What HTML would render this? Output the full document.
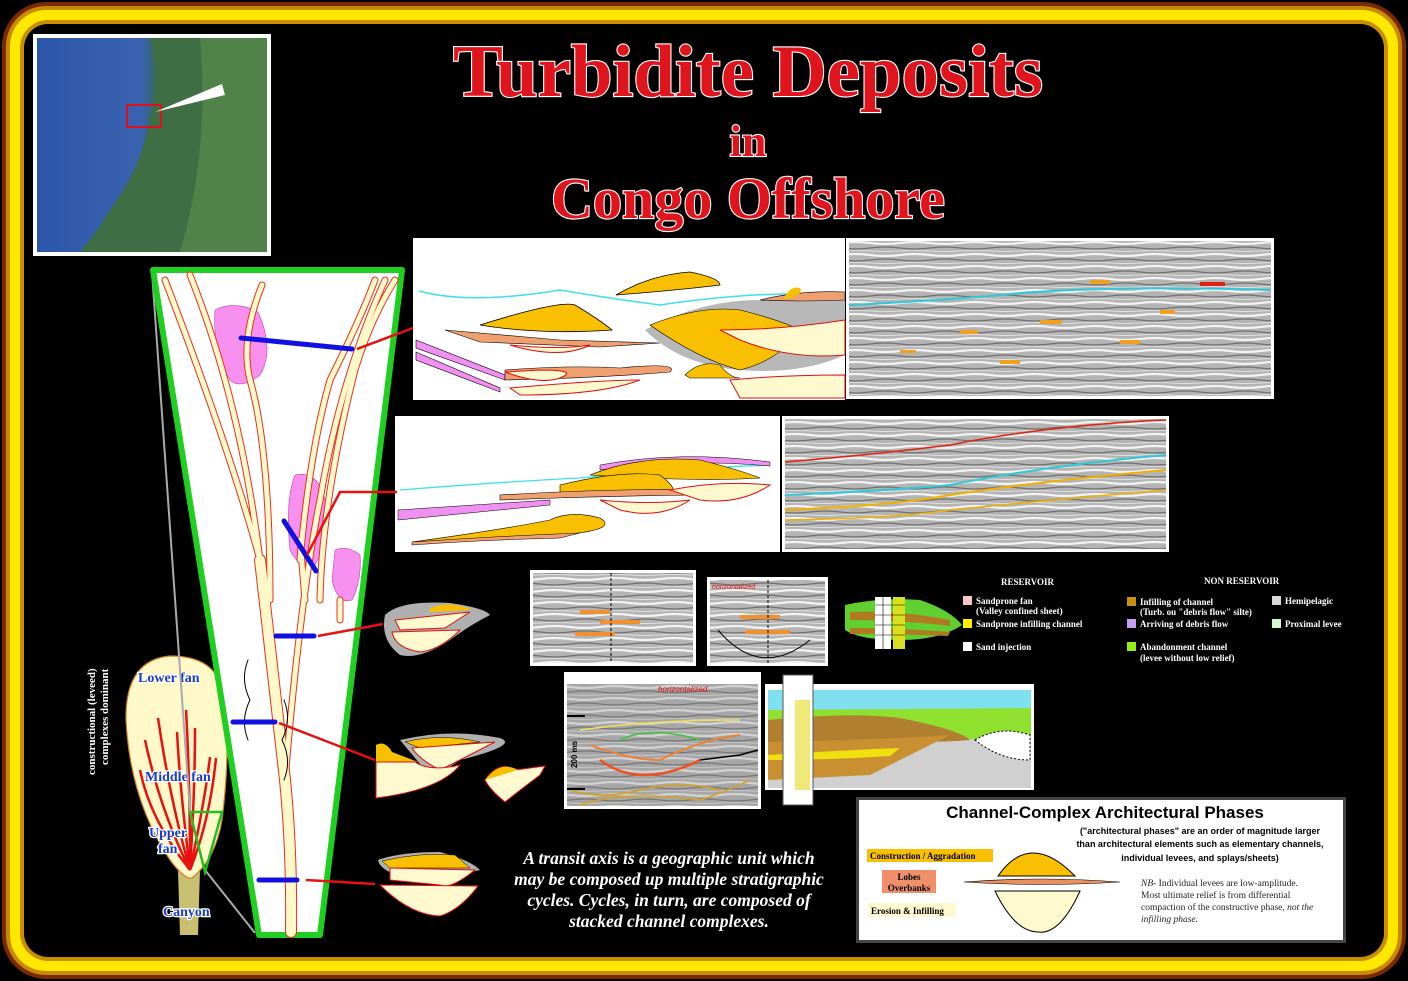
<!DOCTYPE html>
<html><head><meta charset="utf-8"><style>
html,body{margin:0;padding:0;background:#000;}
svg{display:block}
.t{font-family:"Liberation Serif",serif;font-weight:bold;fill:#e0141c;stroke:#fff;stroke-width:2.2px;paint-order:stroke;}
.lg{font-family:"Liberation Serif",serif;font-size:9px;fill:#fff;font-weight:bold}
.bl{font-family:"Liberation Serif",serif;font-weight:bold;fill:#1a3cc8;stroke:#fff;stroke-width:2.5px;paint-order:stroke;font-size:14px}
</style></head><body>
<svg width="1408" height="981" viewBox="0 0 1408 981" xmlns="http://www.w3.org/2000/svg">
<defs>
<pattern id="seis" width="60" height="12" patternUnits="userSpaceOnUse">
<rect width="60" height="12" fill="#b4b4b4"/>
<path d="M0 3 Q15 1 30 3 T60 3" stroke="#f2f2f2" stroke-width="2.2" fill="none"/>
<path d="M0 8 Q15 10 30 8 T60 8" stroke="#707070" stroke-width="1.3" fill="none"/>
<path d="M0 11 Q15 10 30 11 T60 11" stroke="#e0e0e0" stroke-width="1" fill="none"/>
</pattern>
<linearGradient id="map" x1="0" y1="0" x2="1" y2="0">
<stop offset="0" stop-color="#2c56a8"/><stop offset="0.45" stop-color="#3a62b0"/><stop offset="0.55" stop-color="#356a48"/><stop offset="1" stop-color="#4a7a40"/>
</linearGradient>
</defs>
<rect x="0" y="0" width="1408" height="981" fill="#000"/>
<rect x="2" y="2" width="1404" height="977" rx="44" fill="#7a2a00"/>
<rect x="6" y="6" width="1396" height="969" rx="40" fill="#c88a00"/>
<rect x="10" y="10" width="1388" height="961" rx="36" fill="#ffe800"/>
<rect x="20" y="20" width="1368" height="941" rx="28" fill="#c89000"/>
<rect x="24" y="24" width="1360" height="933" rx="24" fill="#000"/>

<rect x="33" y="34" width="238" height="222" fill="#fff"/>
<rect x="37" y="38" width="230" height="214" fill="url(#map)"/>
<path d="M150 38 Q160 80 150 120 Q140 170 110 210 Q95 235 80 252 L267 252 L267 38 Z" fill="#3f6e44"/>
<path d="M200 38 L267 38 L267 252 L180 252 Q210 150 200 38Z" fill="#5a8a4c" opacity="0.7"/>
<rect x="127" y="105" width="34" height="22" fill="none" stroke="#e01020" stroke-width="2"/>
<path d="M155 112 L222 84 L225 95 Z" fill="#fff"/>

<text class="t" x="748" y="96" font-size="74" text-anchor="middle" textLength="590" lengthAdjust="spacingAndGlyphs">Turbidite Deposits</text>
<text class="t" x="748" y="156" font-size="44" text-anchor="middle">in</text>
<text class="t" x="748" y="218" font-size="58" text-anchor="middle">Congo Offshore</text>

<rect x="413" y="238" width="432" height="162" fill="#fff"/>
<path d="M419 291 Q470 305 560 290 Q620 300 660 305 Q760 290 845 295" stroke="#40e0e8" stroke-width="1.5" fill="none"/>
<path d="M645 330 Q700 300 760 300 Q800 290 845 295 L845 355 Q800 375 740 370 Q680 365 645 330Z" fill="#b8b8b8"/>
<path d="M480 325 Q560 300 575 305 Q600 320 612 330 Q540 335 480 325Z" fill="#f8c000" stroke="#000" stroke-width="0.8"/>
<path d="M616 295 Q650 275 690 272 Q720 278 720 285 Q680 290 616 295Z" fill="#f8c000" stroke="#000" stroke-width="0.8"/>
<path d="M445 330 L560 340 L660 343 L600 347 L480 342Z" fill="#f0a070" stroke="#000" stroke-width="0.6"/>
<path d="M510 345 Q560 350 590 345 Q560 360 510 345Z" fill="#fff9d0" stroke="#e01010"/>
<path d="M650 325 Q700 305 740 310 Q780 320 800 330 Q780 360 740 370 Q700 360 650 325Z" fill="#f8c000" stroke="#000" stroke-width="0.6"/>
<path d="M720 330 Q780 330 845 320 L845 355 Q790 360 740 340Z" fill="#fff9d0" stroke="#e01010"/>
<path d="M760 300 Q800 290 845 292 L845 300 Q800 302 760 300Z" fill="#f0a070" stroke="#000" stroke-width="0.6"/>
<path d="M783 300 Q790 285 800 288 Q805 295 783 300Z" fill="#f8c000"/>
<path d="M416 340 L505 375 L505 380 L416 348Z" fill="#f090f0" stroke="#000" stroke-width="0.6"/>
<path d="M416 352 L500 388 L500 392 L416 360Z" fill="#f090f0" stroke="#000" stroke-width="0.6"/>
<path d="M505 370 Q570 365 620 368 Q680 362 670 372 Q600 378 505 380Z" fill="#f0a070" stroke="#000" stroke-width="0.6"/>
<path d="M505 372 Q540 385 560 378 Q580 370 540 370Z" fill="#fff9d0" stroke="#e01010"/>
<path d="M510 388 Q600 380 640 380 Q600 395 520 395Z" fill="#fff9d0" stroke="#e01010"/>
<path d="M685 375 Q700 360 720 365 Q730 378 740 378 L690 378Z" fill="#f8c000" stroke="#000" stroke-width="0.6"/>
<path d="M730 380 Q780 375 845 375 L845 398 L740 398 Z" fill="#fff9d0" stroke="#e01010"/>

<rect x="846" y="238" width="428" height="161" fill="#fff"/>
<rect x="849" y="241" width="422" height="155" fill="url(#seis)"/>
<path d="M849 305 Q950 300 1000 295 Q1100 285 1271 290" stroke="#30c8d8" stroke-width="2" fill="none"/>
<g fill="#f0a020"><rect x="1090" y="280" width="20" height="4"/><rect x="1200" y="282" width="25" height="4" fill="#e02010"/><rect x="960" y="330" width="18" height="4"/><rect x="1040" y="320" width="22" height="4"/><rect x="1120" y="340" width="20" height="4"/><rect x="1160" y="310" width="15" height="4"/><rect x="900" y="350" width="16" height="3"/><rect x="1000" y="360" width="20" height="4"/></g>

<rect x="395" y="416" width="385" height="136" fill="#fff"/>
<path d="M400 490 Q500 482 580 478 Q650 470 770 465" stroke="#40e0e8" stroke-width="1.3" fill="none"/>
<path d="M600 465 Q680 450 770 462 L770 466 Q680 458 600 470Z" fill="#f090f0" stroke="#000" stroke-width="0.5"/>
<path d="M590 475 Q640 455 700 460 Q740 470 760 478 Q700 482 590 475Z" fill="#f8c000" stroke="#000" stroke-width="0.6"/>
<path d="M560 485 Q620 470 660 475 Q680 490 670 495 L560 495Z" fill="#f8c000" stroke="#000" stroke-width="0.6"/>
<path d="M500 495 Q620 488 700 490 L700 495 Q600 496 500 500Z" fill="#f0a070" stroke="#000" stroke-width="0.6"/>
<path d="M670 490 Q720 480 770 485 Q740 505 700 500Z" fill="#fff9d0" stroke="#e01010"/>
<path d="M600 500 Q650 505 690 500 Q660 520 620 510Z" fill="#fff9d0" stroke="#e01010"/>
<path d="M398 510 L550 500 L550 505 L398 520Z" fill="#f090f0" stroke="#000" stroke-width="0.5"/>
<path d="M412 542 Q500 530 550 520 Q570 510 600 518 Q620 530 560 535 Z" fill="#f8c000" stroke="#000" stroke-width="0.6"/>
<path d="M412 542 Q500 536 580 533 L560 538 Q480 540 412 545Z" fill="#f0a070" stroke="#000" stroke-width="0.5"/>

<rect x="782" y="416" width="387" height="136" fill="#fff"/>
<rect x="785" y="419" width="381" height="130" fill="url(#seis)"/>
<path d="M785 462 Q870 455 950 445 Q1050 425 1166 420" stroke="#e02010" stroke-width="1.5" fill="none"/>
<path d="M785 495 Q900 490 950 485 Q1050 465 1166 455" stroke="#30c8d8" stroke-width="2" fill="none"/>
<path d="M785 510 Q900 505 950 495 Q1050 480 1166 470" stroke="#f0b000" stroke-width="2" fill="none"/>
<path d="M785 520 Q900 518 950 510 Q1050 500 1166 490" stroke="#f0b000" stroke-width="1.5" fill="none"/>

<rect x="530" y="570" width="166" height="96" fill="#fff"/>
<rect x="533" y="573" width="160" height="90" fill="url(#seis)"/>
<g fill="#f09030"><rect x="580" y="610" width="30" height="4"/><rect x="600" y="620" width="40" height="4"/><rect x="575" y="632" width="40" height="4"/></g>
<line x1="611" y1="573" x2="611" y2="663" stroke="#000" stroke-dasharray="3 2"/>
<rect x="707" y="577" width="121" height="89" fill="#fff"/>
<rect x="710" y="580" width="115" height="83" fill="url(#seis)"/>
<text x="712" y="589" font-family="Liberation Sans,sans-serif" font-size="7" fill="#e01010" font-style="italic">horizontalized</text>
<g fill="#f09030"><rect x="740" y="615" width="40" height="4"/><rect x="745" y="630" width="45" height="4"/></g>
<line x1="768" y1="580" x2="768" y2="663" stroke="#000" stroke-dasharray="3 2"/>
<path d="M718 630 Q760 680 810 640" stroke="#000" fill="none"/>

<path d="M845 605 Q880 597 920 600 Q950 610 962 625 Q940 640 900 640 Q860 640 845 630Z" fill="#60d030"/>
<path d="M850 612 Q900 610 950 620 L950 626 Q900 620 850 620Z" fill="#b07a20"/>
<path d="M850 628 Q900 628 950 632 L948 636 Q900 634 850 634Z" fill="#b07a20"/>
<rect x="875" y="597" width="16" height="52" fill="#fff"/>
<rect x="893" y="597" width="12" height="52" fill="#d8e020"/>
<g stroke="#000" stroke-width="0.6"><line x1="875" y1="605" x2="905" y2="605"/><line x1="875" y1="615" x2="905" y2="615"/><line x1="875" y1="625" x2="905" y2="625"/><line x1="875" y1="635" x2="905" y2="635"/><line x1="883" y1="597" x2="883" y2="649"/></g>
<text class="lg" x="1001" y="585">RESERVOIR</text>
<text class="lg" x="1204" y="584">NON RESERVOIR</text>
<rect x="963" y="596" width="9" height="9" fill="#f8c8c8"/>
<text class="lg" x="976" y="604">Sandprone fan</text><text class="lg" x="976" y="614">(Valley confined sheet)</text>
<rect x="963" y="619" width="9" height="9" fill="#ffee00"/>
<text class="lg" x="976" y="627">Sandprone infilling channel</text>
<rect x="963" y="642" width="9" height="9" fill="#fff"/>
<text class="lg" x="976" y="650">Sand injection</text>
<rect x="1127" y="597" width="9" height="9" fill="#c89010"/>
<text class="lg" x="1140" y="605">Infilling of channel</text><text class="lg" x="1140" y="615">(Turb. ou "debris flow" silte)</text>
<rect x="1127" y="619" width="9" height="9" fill="#c8a0f0"/>
<text class="lg" x="1140" y="627">Arriving of debris flow</text>
<rect x="1127" y="642" width="9" height="9" fill="#90f010"/>
<text class="lg" x="1140" y="650">Abandonment channel</text><text class="lg" x="1140" y="661">(levee without low relief)</text>
<rect x="1272" y="596" width="9" height="9" fill="#d8d8d8"/>
<text class="lg" x="1285" y="604">Hemipelagic</text>
<rect x="1272" y="619" width="9" height="9" fill="#d0f8d0"/>
<text class="lg" x="1285" y="627">Proximal levee</text>

<rect x="564" y="672" width="197" height="137" fill="#fff"/>
<rect x="567" y="684" width="191" height="122" fill="url(#seis)"/>
<rect x="567" y="684" width="191" height="122" fill="#888" opacity="0.3"/>
<text x="658" y="692" font-family="Liberation Sans,sans-serif" font-size="8" fill="#e01010" font-style="italic">horizontalized</text>
<g fill="none" stroke-width="1.5">
<path d="M580 730 Q650 720 740 720" stroke="#f0e060"/>
<path d="M590 745 Q630 760 660 760 Q700 740 740 735" stroke="#f08030" stroke-width="2"/>
<path d="M600 760 Q640 790 700 760" stroke="#f05020" stroke-width="2.5"/>
<path d="M620 740 Q650 725 700 740" stroke="#40c040"/>
<path d="M570 790 Q600 800 640 790 Q680 780 720 790" stroke="#d8a020"/>
<path d="M580 805 Q620 790 700 800 Q730 790 750 780" stroke="#d8a020"/>
<path d="M700 760 L740 755 L758 750" stroke="#000"/>
</g>
<text x="577" y="768" font-family="Liberation Sans,sans-serif" font-size="8" font-weight="bold" transform="rotate(-90 577 768)">200 ms</text>
<line x1="567" y1="716" x2="585" y2="716" stroke="#000" stroke-width="2"/>
<line x1="567" y1="789" x2="585" y2="789" stroke="#000" stroke-width="2"/>

<rect x="765" y="684" width="269" height="106" fill="#fff"/>
<rect x="768" y="690" width="263" height="20" fill="#80e0f0"/>
<rect x="768" y="710" width="263" height="78" fill="#d0d0d0"/>
<path d="M768 710 L1031 708 L1031 735 Q950 745 900 730 Q850 730 768 730Z" fill="#90e030"/>
<path d="M768 720 Q850 712 900 718 Q960 730 970 740 Q900 745 768 742Z" fill="#b08030"/>
<path d="M768 742 Q880 740 950 735 Q900 760 870 775 L768 780Z" fill="#c89030"/>
<path d="M768 755 Q850 750 900 748 L890 756 Q830 760 768 760Z" fill="#f0e010"/>
<path d="M975 740 Q1000 725 1030 735 L1030 760 Q1000 760 975 740Z" fill="#fff" stroke="#000" stroke-dasharray="2 2"/>
<rect x="783" y="675" width="30" height="130" fill="#fff" stroke="#555"/>
<rect x="795" y="700" width="15" height="90" fill="#e8e040" opacity="0.7"/>

<rect x="856" y="797" width="490" height="146" fill="#444"/>
<rect x="859" y="800" width="484" height="140" fill="#fff"/>
<text x="1105" y="818" font-family="Liberation Sans,sans-serif" font-size="17" font-weight="bold" text-anchor="middle">Channel-Complex Architectural Phases</text>
<g font-family="Liberation Sans,sans-serif" font-size="9" font-weight="bold" text-anchor="middle">
<text x="1200" y="834">("architectural phases" are an order of magnitude larger</text>
<text x="1200" y="847">than architectural elements such as elementary channels,</text>
<text x="1200" y="861">individual levees, and splays/sheets)</text></g>
<rect x="867" y="849" width="126" height="13" fill="#f8c000"/>
<text x="870" y="859" font-family="Liberation Serif,serif" font-size="9" font-weight="bold">Construction / Aggradation</text>
<rect x="882" y="870" width="54" height="23" fill="#f0906a"/>
<text x="909" y="880" font-family="Liberation Serif,serif" font-size="9" font-weight="bold" text-anchor="middle">Lobes</text>
<text x="909" y="891" font-family="Liberation Serif,serif" font-size="9" font-weight="bold" text-anchor="middle">Overbanks</text>
<rect x="868" y="903" width="88" height="14" fill="#fff9d0"/>
<text x="871" y="914" font-family="Liberation Serif,serif" font-size="9" font-weight="bold">Erosion &amp; Infilling</text>
<path d="M998 876 Q1030 830 1075 876Z" fill="#f8c000" stroke="#000"/>
<path d="M964 882 Q1040 876 1120 882 Q1040 887 964 882Z" fill="#e89060" stroke="#000" stroke-width="0.6"/>
<path d="M995 891 L1080 891 Q1060 935 1038 932 Q1015 932 995 891Z" fill="#fff9d0" stroke="#000"/>
<g font-family="Liberation Serif,serif" font-size="9.5" fill="#222">
<text x="1141" y="886"><tspan font-style="italic">NB</tspan>- Individual levees are low-amplitude.</text>
<text x="1141" y="898">Most ultimate relief is from differential</text>
<text x="1141" y="910">compaction of the constructive phase, <tspan font-style="italic">not the</tspan></text>
<text x="1141" y="922" font-style="italic">infilling phase.</text></g>

<g font-family="Liberation Serif,serif" font-size="17.5" font-style="italic" font-weight="bold" fill="#fff" text-anchor="middle">
<text x="669" y="864">A transit axis  is a geographic unit which</text>
<text x="669" y="885">may be composed up multiple stratigraphic</text>
<text x="669" y="906">cycles.  Cycles, in turn, are composed of</text>
<text x="669" y="927">stacked channel complexes.</text></g>

<text x="95" y="775" font-family="Liberation Serif,serif" font-size="11" font-weight="bold" fill="#fff" transform="rotate(-90 95 775)">constructional (leveed)</text>
<text x="108" y="765" font-family="Liberation Serif,serif" font-size="11" font-weight="bold" fill="#fff" transform="rotate(-90 108 765)">complexes dominant</text>
<path d="M178 870 L200 870 L198 935 L180 935Z" fill="#c8c070"/>
<path d="M170 656 Q125 660 126 720 Q130 800 170 860 Q185 880 192 878 Q215 860 222 820 Q232 740 222 690 Q215 656 170 656Z" fill="#fff8c8" stroke="#d08020" stroke-width="1.2"/>
<g stroke="#e81010" stroke-width="2.5" fill="none">
<path d="M190 870 Q160 810 145 740"/><path d="M190 870 Q170 800 158 718"/><path d="M190 870 Q180 790 177 732"/>
<path d="M190 870 Q190 780 186 710"/><path d="M190 870 Q195 790 195 728"/><path d="M190 870 Q205 800 210 757"/>
<path d="M190 870 Q210 820 216 758"/><path d="M190 870 Q150 820 140 770"/></g>
<text class="bl" x="138" y="682">Lower fan</text>
<text class="bl" x="145" y="781">Middle fan</text>
<text class="bl" x="149" y="837">Upper</text><text class="bl" x="158" y="853">fan</text>
<text class="bl" x="163" y="916">Canyon</text>
<polyline points="152,272 190,812" stroke="#aaa" stroke-width="2" fill="none"/>
<polyline points="205,870 255,933" stroke="#aaa" stroke-width="2" fill="none"/>
<path d="M190 812 L222 812 L205 872Z" fill="none" stroke="#20c020" stroke-width="2.5"/>

<path d="M153 270 L402 270 L320 935 L259 935Z" fill="#fff" stroke="#20d020" stroke-width="6" stroke-linejoin="round"/>
<path d="M215 310 Q235 300 258 312 Q275 350 260 375 Q240 390 230 380 Q212 350 215 310Z" fill="#f890f0" stroke="#c040c0" stroke-width="0.6"/>
<path d="M295 475 Q318 470 325 500 Q330 540 315 565 Q300 570 290 550 Q285 500 295 475Z" fill="#f890f0" stroke="#c040c0" stroke-width="0.6"/>
<path d="M335 550 Q348 545 360 555 Q362 580 352 600 Q338 605 332 580Z" fill="#f890f0" stroke="#c040c0" stroke-width="0.6"/>
<g fill="none" stroke-linecap="round" stroke-linejoin="round">
<g stroke="#e83020" stroke-width="12">
<path d="M291 932 Q292 850 285 780 Q270 650 260 560"/>
</g>
<g stroke="#e83020" stroke-width="7">
<path d="M260 560 Q230 450 165 280"/><path d="M260 560 Q240 400 190 275"/><path d="M285 780 Q300 600 320 500 Q340 380 385 280"/>
<path d="M270 600 Q270 450 250 380 Q240 340 262 285"/><path d="M300 560 Q310 450 330 380 Q360 320 375 280"/>
<path d="M320 600 Q322 500 355 370 Q370 320 395 280"/>
<path d="M340 620 L340 600"/><path d="M305 600 L300 540"/>
</g>
<g stroke="#fff8c8" stroke-width="10">
<path d="M291 932 Q292 850 285 780 Q270 650 260 560"/>
</g>
<g stroke="#fff8c8" stroke-width="5">
<path d="M260 560 Q230 450 165 280"/><path d="M260 560 Q240 400 190 275"/><path d="M285 780 Q300 600 320 500 Q340 380 385 280"/>
<path d="M270 600 Q270 450 250 380 Q240 340 262 285"/><path d="M300 560 Q310 450 330 380 Q360 320 375 280"/>
<path d="M320 600 Q322 500 355 370 Q370 320 395 280"/>
<path d="M340 620 L340 600"/><path d="M305 600 L300 540"/>
</g>
<path d="M248 660 Q240 680 250 700 Q240 720 248 740" stroke="#000" stroke-width="1"/>
<path d="M284 700 Q292 720 282 740 Q292 760 284 780" stroke="#000" stroke-width="1"/>
</g>
<g stroke="#1010e0" stroke-width="5" stroke-linecap="round">
<line x1="241" y1="338" x2="352" y2="349"/><line x1="284" y1="521" x2="316" y2="571"/>
<line x1="276" y1="636" x2="314" y2="636"/><line x1="233" y1="722" x2="275" y2="722"/><line x1="259" y1="880" x2="297" y2="880"/></g>
<g stroke="#e81010" stroke-width="2.5" fill="none">
<polyline points="357,349 413,328"/><polyline points="307,555 340,492 397,492"/>
<polyline points="318,636 383,624"/><polyline points="279,723 375,760"/><polyline points="306,880 375,884"/></g>

<path d="M385 615 Q400 600 450 603 Q485 608 490 615 Q470 625 450 640 Q420 660 400 655 Q380 640 385 615Z" fill="#b0b0b0"/>
<path d="M395 620 L470 612 L445 628 L400 630Z" fill="#fff9d0" stroke="#e01010"/>
<path d="M392 632 L460 630 Q440 650 420 652 Q395 648 392 632Z" fill="#fff9d0" stroke="#e01010"/>
<path d="M430 608 Q450 600 472 610 L430 612Z" fill="#f8c000"/>
<path d="M400 740 Q450 728 500 738 Q520 745 460 760 Q440 775 425 770Z" fill="#b0b0b0"/>
<path d="M405 742 Q440 733 480 742 L420 748Z" fill="#f8c000" stroke="#000" stroke-width="0.5"/>
<path d="M412 748 L495 742 Q460 760 440 770 Q420 760 412 748Z" fill="#fff9d0" stroke="#e01010"/>
<path d="M376 745 Q385 740 392 752 L418 762 L376 762Z" fill="#f8c000"/>
<path d="M376 762 L415 762 Q430 772 460 765 Q440 790 376 798Z" fill="#fff9d0" stroke="#e01010"/>
<path d="M485 780 Q500 760 515 770 L545 766 L540 775 Q520 790 505 802 Q490 790 485 780Z" fill="#fff9d0" stroke="#e01010"/>
<path d="M485 780 Q500 760 518 770Z" fill="#f8c000"/>
<path d="M378 860 Q400 852 440 852 Q470 860 480 870 Q440 880 400 876 Q380 870 378 860Z" fill="#b0b0b0"/>
<path d="M382 861 Q420 852 455 855 L470 868 L390 868Z" fill="#f8c000" stroke="#000" stroke-width="0.5"/>
<path d="M390 868 L475 870 Q450 890 440 885 L390 880Z" fill="#fff9d0" stroke="#e01010"/>
<path d="M380 885 L478 886 Q460 910 440 916 Q410 915 380 885Z" fill="#fff9d0" stroke="#e01010"/>
</svg>
</body></html>
